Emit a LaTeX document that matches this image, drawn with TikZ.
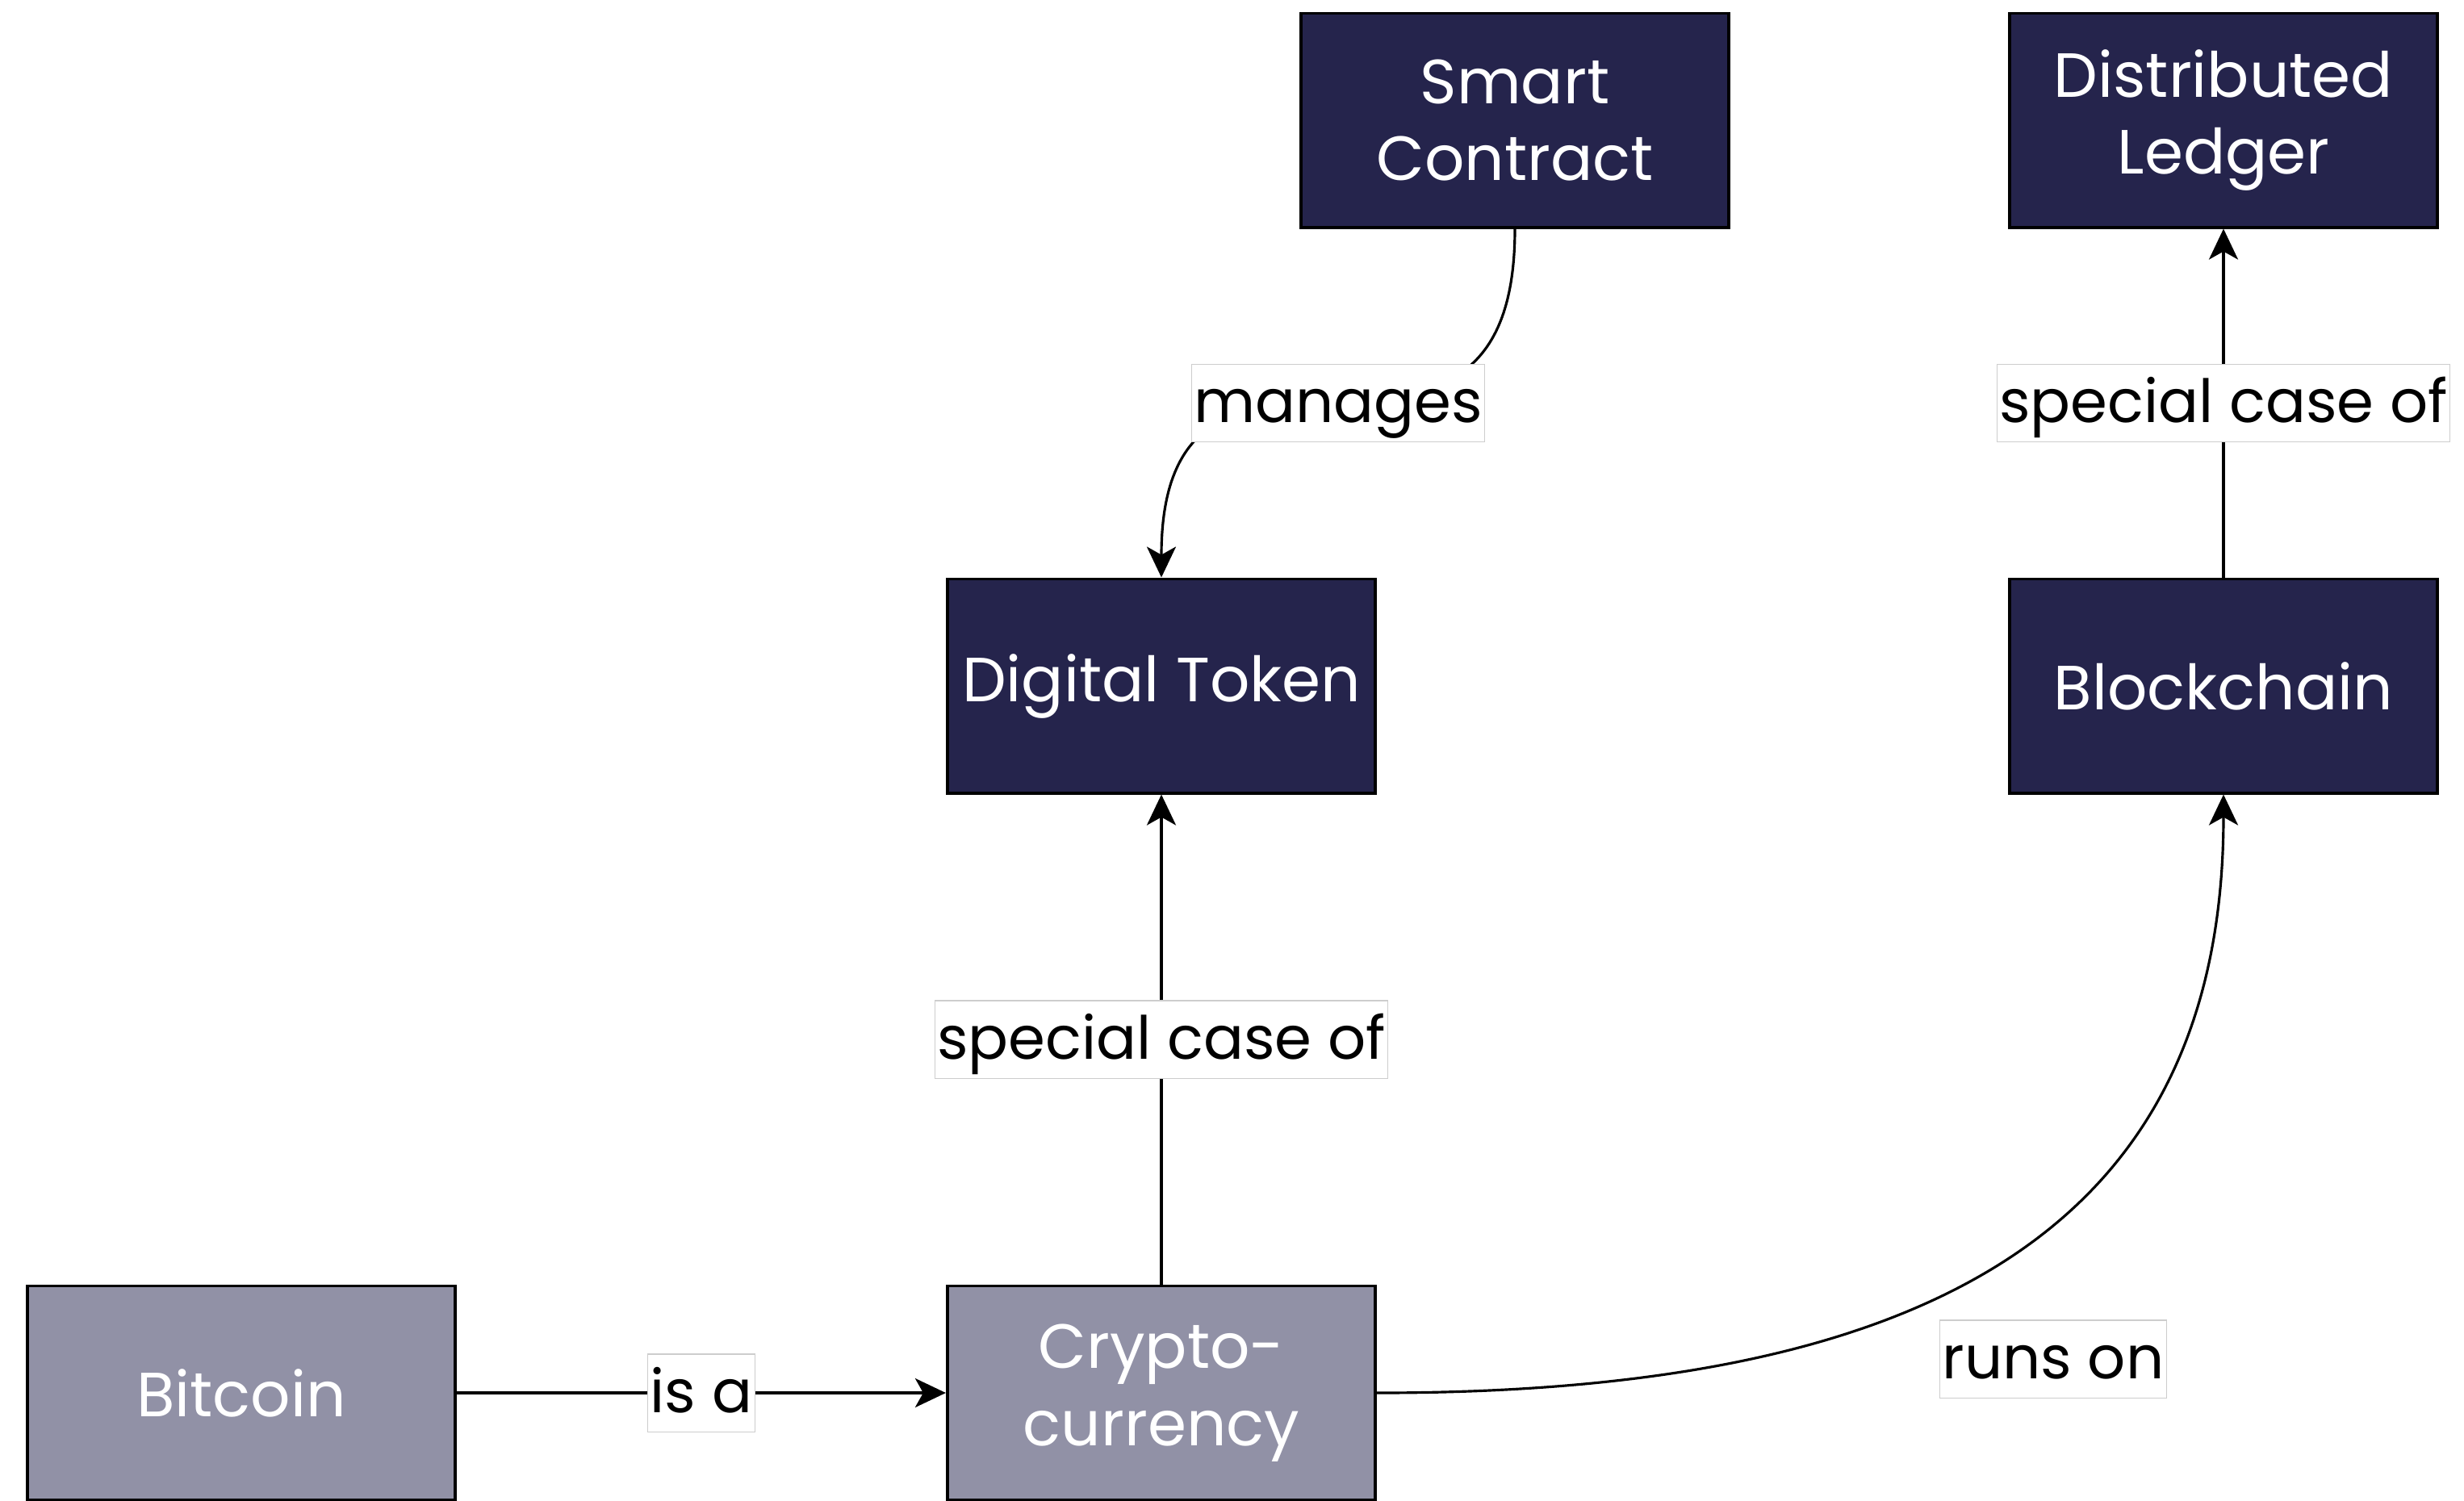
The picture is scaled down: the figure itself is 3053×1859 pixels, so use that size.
\documentclass[tikz,border=0pt]{standalone}
\usepackage{fontspec}
\setmainfont{Poppins}
\usetikzlibrary{arrows.meta}
\definecolor{navy}{RGB}{37,36,76}
\definecolor{slate}{RGB}{145,145,166}
\definecolor{lblframe}{RGB}{205,205,205}
\begin{document}
\begin{tikzpicture}[x=0.01cm,y=-0.01cm,
  box/.style={draw=black, line width=1.1pt, minimum width=5.3cm, minimum height=2.65cm,
    text=white, font=\fontsize{22}{27.2}\selectfont, align=center, inner sep=0pt},
  dark/.style={box, fill=navy},
  pale/.style={box, fill=slate},
  lbl/.style={draw=lblframe, line width=0.3pt, fill=white, text=black,
    font=\fontsize{21}{27}\selectfont, text height=0.72cm, text depth=0.24cm,
    inner xsep=0.03cm, inner ysep=0pt},
  link/.style={draw=black, line width=0.9pt, -{Stealth[length=0.38cm,width=0.36cm,inset=0.1cm]}},
]
\useasboundingbox (0,0) rectangle (3053,1859);

% concepts
\node[dark] (sc) at (1877,149)  {Smart\\Contract};
\node[dark] (dl) at (2755,149)  {Distributed\\Ledger};
\node[dark] (dt) at (1439,850)  {Digital Token};
\node[dark] (bc) at (2755,850)  {Blockchain};
\node[pale] (btc) at (299,1726) {Bitcoin};
\node[pale] (cc) at (1439,1726) {Crypto-\\currency};

% relations
\draw[link] (btc.east) -- (cc.west) node[lbl,pos=0.5] (isa) {is a};
\draw[link] (cc.north) -- (dt.south) node[lbl,pos=0.5] (sco1) {special case of};
\draw[link] (bc.north) -- (dl.south) node[lbl,pos=0.5] (sco2) {special case of};
\draw[link] (sc.south) .. controls +(0,400) and +(0,-400) .. (dt.north)
  node[lbl,pos=0.5] (man) {manages};
\draw[link] (cc.east) .. controls +(650,0) and +(0,560) .. (bc.south);
\node[lbl] (runs) at (2544,1684) {runs on};
\end{tikzpicture}
\end{document}
